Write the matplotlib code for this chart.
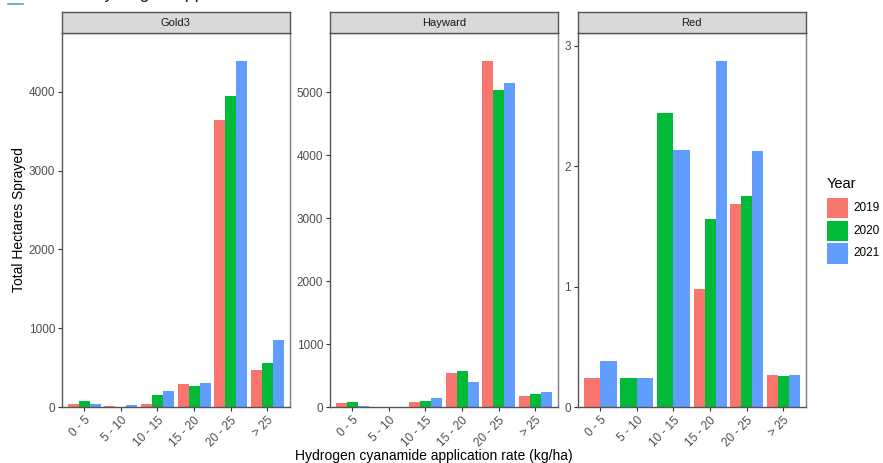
import matplotlib
matplotlib.use("Agg")
import matplotlib.pyplot as plt
from matplotlib.patches import Rectangle
import numpy as np

plt.rcParams['font.family'] = ['Liberation Sans', 'DejaVu Sans']

# data
rates = ['0 - 5', '5 - 10', '10 - 15', '15 - 20', '20 - 25', '> 25']
years = ['2019', '2020', '2021']
colors = ['#F8766D', '#00BA38', '#619CFF']
varieties = ['Gold3', 'Hayward', 'Red']

gold3_2019 = [45, 13, 38, 299, 3641, 468]
gold3_2020 = [75, 0, 152, 270, 3941, 565]
gold3_2021 = [38, 30, 210, 308, 4384, 856]

hayward_2019 = [68, 8, 79, 540, 5492, 175]
hayward_2020 = [79, 0, 100, 571, 5037, 206]
hayward_2021 = [16, 8, 148, 397, 5148, 238]

# None = no record for that year (ggplot dodge fills the gap)
red_2019 = [0.247, None, None, 0.984, 1.685, 0.269]
red_2020 = [None, 0.247, 2.439, 1.566, 1.757, 0.258]
red_2021 = [0.388, 0.247, 2.136, 2.871, 2.128, 0.269]

panel_data = {
    'Gold3': [gold3_2019, gold3_2020, gold3_2021],
    'Hayward': [hayward_2019, hayward_2020, hayward_2021],
    'Red': [red_2019, red_2020, red_2021],
}
yticks = {
    'Gold3': [0, 1000, 2000, 3000, 4000],
    'Hayward': [0, 1000, 2000, 3000, 4000, 5000],
    'Red': [0, 1, 2, 3],
}

W, H = 883, 463
fig = plt.figure(figsize=(W / 100, H / 100), dpi=100)

lefts = [62, 330, 578]
pw = 227.5
top_px, bot_px, strip_px = 33.3, 407.3, 21.6
border = '#7F7F7F'

for var, lx in zip(varieties, lefts):
    ax = fig.add_axes([lx / W, (H - bot_px) / H, pw / W, (bot_px - top_px) / H])
    series = panel_data[var]
    vmax = 0
    for i in range(len(rates)):
        present = [k for k in range(3) if series[k][i] is not None]
        n = len(present)
        bw = 0.9 / n
        for j, k in enumerate(present):
            v = series[k][i]
            vmax = max(vmax, v)
            x = i + 1 - 0.45 + bw * (j + 0.5)
            ax.bar(x, v, width=bw, color=colors[k], linewidth=0)
    ax.set_xlim(0.4, 6.6)
    ax.set_ylim(0, vmax * 1.081)
    ax.set_xticks(np.arange(1, 7))
    ax.set_xticklabels(rates, rotation=45, ha='right', va='top',
                       rotation_mode='anchor', fontsize=8.5, color='#4D4D4D')
    ax.set_yticks(yticks[var])
    ax.set_yticklabels([str(t) for t in yticks[var]], fontsize=8.5, color='#4D4D4D')
    ax.tick_params(length=3, width=0.8, color='#333333', pad=2)
    for s in ax.spines.values():
        s.set_color(border)
        s.set_linewidth(1.0)
    ax.spines['left'].set_color('#555555')
    ax.spines['bottom'].set_color('#555555')

    # facet strip
    sax = fig.add_axes([lx / W, (H - top_px) / H, pw / W, strip_px / H])
    sax.set_xticks([])
    sax.set_yticks([])
    sax.set_facecolor('#D9D9D9')
    for s in sax.spines.values():
        s.set_color('#555555')
        s.set_linewidth(1.0)
    sax.text(0.5, 0.5, var, ha='center', va='center', fontsize=8, color='#1A1A1A',
             transform=sax.transAxes)

fig.text(290 / W + (577 - 290) / 2 / W, (H - 456) / H,
         'Hydrogen cyanamide application rate (kg/ha)', ha='center', va='center',
         fontsize=10, color='black')
fig.text(19 / W, (H - 220) / H, 'Total Hectares Sprayed', rotation=90,
         ha='center', va='center', fontsize=10, color='black')

# legend
fig.text(827 / W, (H - 184) / H, 'Year', ha='left', va='center', fontsize=10.5)
for k, (yr, c) in enumerate(zip(years, colors)):
    ytop = 198 + k * 22.6
    fig.patches.append(Rectangle((827 / W, (H - ytop - 20.5) / H), 21 / W, 20.5 / H,
                                 transform=fig.transFigure, color=c, linewidth=0))
    fig.text(853 / W, (H - ytop - 10) / H, yr, ha='left', va='center', fontsize=8.5)

# caption line, cut off at the top edge as in the reference
fig.text(26 / W, (H + 7) / H, 'Kiwifruit hydrogen application rates for 2019 - 2021',
         ha='left', va='center', fontsize=13, color='#222222')
fig.add_artist(plt.Line2D([8 / W, 23 / W], [(H - 4) / H, (H - 4) / H],
                          transform=fig.transFigure, color='#5B9BD5', linewidth=1.2))

fig.savefig('out.png', dpi=100, facecolor='white')
